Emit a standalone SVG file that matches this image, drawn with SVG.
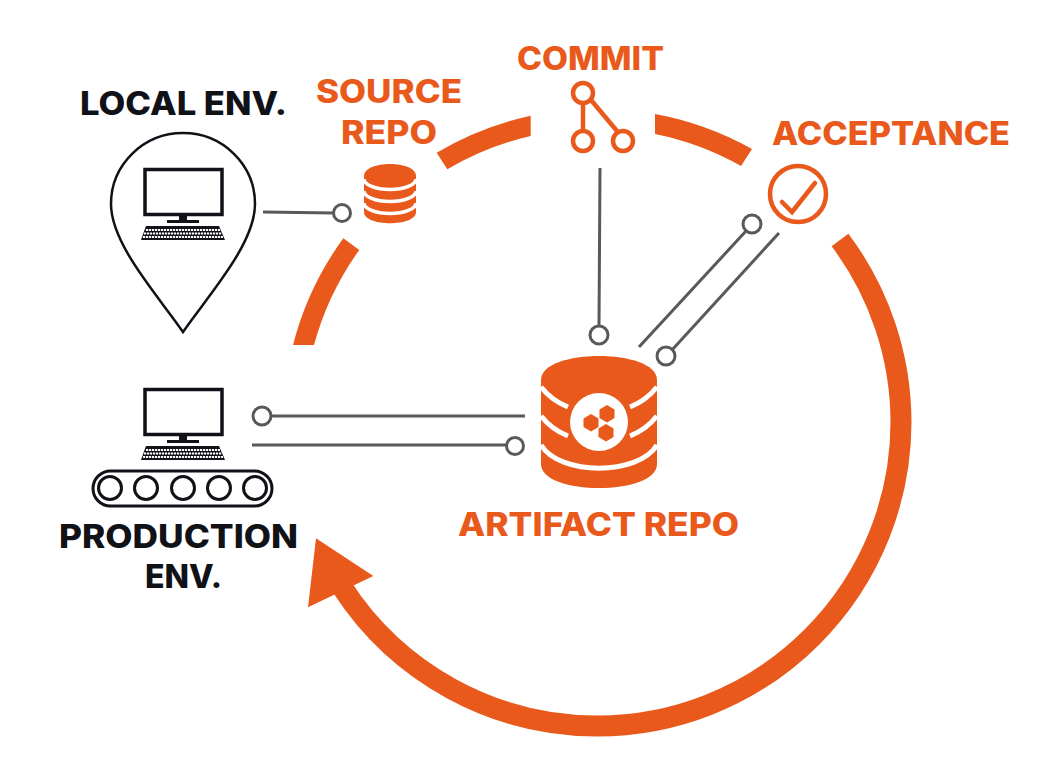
<svg xmlns="http://www.w3.org/2000/svg" width="1063" height="775" viewBox="0 0 1063 775">
<style>
.t{font-family:"Inter","Liberation Sans",sans-serif;font-weight:800;font-size:32px}
.o{fill:#e8591b}.k{fill:#101218}
.arc{fill:none;stroke:#e8591b;stroke-width:21}
.c{fill:none;stroke:#58595b;stroke-width:3}
.d{fill:#fff;stroke:#58595b;stroke-width:3}
.ol{fill:none;stroke:#e8591b;stroke-width:4.500}
.bl{fill:none;stroke:#101218;stroke-width:3}
.ws{fill:none;stroke:#fff;stroke-width:5}
.ws3{fill:none;stroke:#fff;stroke-width:3.500}
</style>
<defs>
<g id="pc">
<rect x="145" y="169.500" width="77" height="45" fill="#fff" stroke="#101218" stroke-width="3.500"/>
<rect x="179" y="215" width="8" height="6" fill="#101218"/>
<rect x="167" y="220" width="32" height="3" fill="#101218"/>
<path d="M146 226H219L225 240H141Z" fill="#101218"/>
<path d="M146 230H220M144 233.500H222M143 237H223" stroke="#fff" stroke-width="2" stroke-dasharray="2.200 .8" fill="none"/>
</g>
</defs>
<rect width="1063" height="775" fill="#fff"/>
<g id="cycle">
<path class="o" d="M293 345A314.500 314.500 0 0 1 343.300 238.300L359.300 250A293.500 293.500 0 0 0 314 345Z"/>
<path class="o" d="M436.700 152.700A314.500 314.500 0 0 1 530.700 115.700V136A293.500 293.500 0 0 0 447.300 169.300Z"/>
<path class="o" d="M655 114A314.500 314.500 0 0 1 752 149L741 166A293.500 293.500 0 0 0 655 134Z"/>
<path class="arc" d="M840 240A304 304 0 0 1 901 422A304 304 0 0 1 597 726A304 304 0 0 1 342 587"/>
<path class="o" d="M316 538.300L373.300 576L308 607.300Z"/>
</g>
<g id="connectors">
<path class="c" d="M263 212L334 213"/><circle class="d" cx="342" cy="213" r="8.500"/>
<path class="c" d="M600 168L599 327"/><circle class="d" cx="599" cy="335" r="9"/>
<path class="c" d="M639 347L746 231"/><circle class="d" cx="752" cy="224" r="9"/>
<path class="c" d="M779 233L672 350"/><circle class="d" cx="666" cy="356" r="9"/>
<path class="c" d="M271 416L525 416"/><circle class="d" cx="262" cy="416" r="9"/>
<path class="c" d="M252 445L507 445"/><circle class="d" cx="515" cy="446" r="8.500"/>
</g>
<g id="local-env">
<path d="M183 332C160 298 111 245 111 204A72 71 0 0 1 255 204C255 245 206 298 183 332Z" fill="none" stroke="#101218" stroke-width="2.500"/>
<use href="#pc"/>
<text class="t k" x="80" y="114.500" textLength="207" lengthAdjust="spacingAndGlyphs">LOCAL ENV.</text>
</g>
<g id="source-repo">
<text class="t o" x="316" y="103" textLength="146" lengthAdjust="spacingAndGlyphs">SOURCE</text>
<text class="t o" x="341" y="143.500" textLength="96" lengthAdjust="spacingAndGlyphs">REPO</text>
<path class="o" d="M364 176C364 160 416 160 416 176V212C416 227 364 227 364 212Z"/>
<path class="ws3" d="M364 179A26 10.500 0 0 0 416 179M364 191A26 10.500 0 0 0 416 191M364 203A26 10.500 0 0 0 416 203"/>
</g>
<g id="commit">
<text class="t o" x="517" y="69.500" textLength="147" lengthAdjust="spacingAndGlyphs">COMMIT</text>
<path class="ol" d="M583 104V131M591 100L617 131"/>
<circle class="ol" cx="583" cy="93" r="10"/><circle class="ol" cx="583" cy="141" r="10"/><circle class="ol" cx="623" cy="141" r="10"/>
</g>
<g id="acceptance">
<text class="t o" x="772" y="145" textLength="238" lengthAdjust="spacingAndGlyphs">ACCEPTANCE</text>
<circle class="ol" cx="798" cy="194" r="28"/>
<path class="ol" stroke-linecap="round" d="M782 202L792 212L815 183"/>
</g>
<g id="artifact-repo">
<path class="o" d="M541 380C541 348 657 348 657 380V464C657 496 541 496 541 464Z"/>
<path class="ws" d="M541 387C549 397 558 403 568 407M657 387C649 397 640 403 630 407M541 416C549 426 558 432 568 436M657 416C649 426 640 432 630 436M541 445C560 476 638 476 657 445"/>
<circle cx="599" cy="422" r="29" fill="#fff"/>
<path class="o" d="M607 405L614.500 409.500V418L607 422.500L599.500 418V409.500ZM591 414L598.500 418.500V427L591 431.500L583.500 427V418.500ZM606 424L613.500 428.500V437L606 441.500L598.500 437V428.500Z"/>
<text class="t o" x="458" y="536" textLength="281" lengthAdjust="spacingAndGlyphs">ARTIFACT REPO</text>
</g>
<g id="production-env">
<use href="#pc" transform="translate(0 220)"/>
<rect class="bl" x="93" y="471" width="179" height="35" rx="17.500"/>
<circle class="bl" cx="110" cy="488" r="11.500"/><circle class="bl" cx="146" cy="488" r="11.500"/><circle class="bl" cx="183" cy="488" r="11.500"/><circle class="bl" cx="219" cy="488" r="11.500"/><circle class="bl" cx="255" cy="488" r="11.500"/>
<text class="t k" x="59" y="548" textLength="239" lengthAdjust="spacingAndGlyphs">PRODUCTION</text>
<text class="t k" x="145" y="588" textLength="77" lengthAdjust="spacingAndGlyphs">ENV.</text>
</g>
</svg>
